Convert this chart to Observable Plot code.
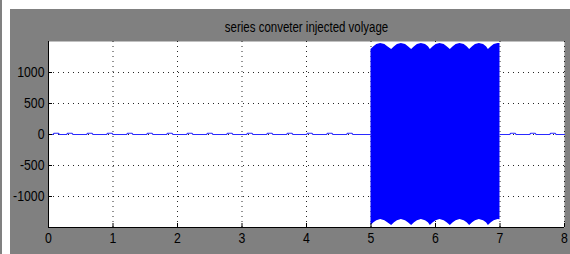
<!DOCTYPE html>
<html><head><meta charset="utf-8">
<script src="https://cdn.jsdelivr.net/npm/d3@7"></script>
<script src="https://cdn.jsdelivr.net/npm/@observablehq/plot@0.6"></script>
<style>
html,body{margin:0;padding:0;background:#fff;}
#wrap{position:relative;width:570px;height:254px;background:#fff;overflow:hidden;}
#panel{position:absolute;left:10px;top:9px;width:560px;height:245px;background:#808080;}
#strip{position:absolute;left:0;top:0;width:2px;height:254px;background:#808080;}
#chart{position:absolute;left:0;top:0;}
</style></head>
<body><div id="wrap"><div id="strip"></div><div id="panel"></div><div id="chart"></div></div>
<script>
const titleText = "series conveter injected volyage";
const xTicks = [0, 1, 2, 3, 4, 5, 6, 7, 8];
const yTicks = [-1000, -500, 0, 500, 1000];

// envelope of the injected voltage between t = 5 and t = 7
const envT = [
  5.000, 5.045, 5.090, 5.150, 5.215, 5.260,
  5.320, 5.365, 5.410, 5.470, 5.535, 5.580,
  5.630, 5.675, 5.720, 5.780, 5.845, 5.890,
  5.920, 5.965, 6.010, 6.070, 6.135, 6.180,
  6.230, 6.275, 6.320, 6.380, 6.445, 6.490,
  6.530, 6.575, 6.620, 6.680, 6.745, 6.790,
  6.820, 6.865, 6.910, 6.970, 7.000
];
const envUpper = [
  1372, 1416, 1450, 1469, 1450, 1416,
  1372, 1416, 1450, 1469, 1450, 1416,
  1372, 1416, 1450, 1469, 1450, 1416,
  1372, 1416, 1450, 1469, 1450, 1416,
  1372, 1416, 1450, 1469, 1450, 1416,
  1372, 1416, 1450, 1469, 1450, 1416,
  1372, 1416, 1450, 1469, 1466
];
const envLower = [
  -1468, -1424, -1390, -1371, -1390, -1424,
  -1468, -1424, -1390, -1371, -1390, -1424,
  -1468, -1424, -1390, -1371, -1390, -1424,
  -1468, -1424, -1390, -1371, -1390, -1424,
  -1468, -1424, -1390, -1371, -1390, -1424,
  -1468, -1424, -1390, -1371, -1390, -1424,
  -1468, -1424, -1390, -1371, -1374
];

// small ripple outside the injection interval
const rippleSegments = [[0, 5], [7, 8]];
const rippleBumps = [0.12, 0.33, 0.64, 0.95, 1.26, 1.57, 1.88, 2.19, 2.50, 2.81, 3.12, 3.43, 3.74, 4.05, 4.36, 4.67, 7.20, 7.51, 7.82];
const rippleHeight = 20;

const envData = envT.map((t, i) => ({t, lo: envLower[i], hi: envUpper[i]}));
const ripplePts = [];
rippleSegments.forEach(([a, b], s) => {
  ripplePts.push({t: a, v: 0, s});
  rippleBumps.filter(c => c > a && c < b).forEach(c => {
    ripplePts.push({t: c - 0.05, v: 0, s}, {t: c - 0.035, v: rippleHeight, s},
                   {t: c + 0.035, v: rippleHeight, s}, {t: c + 0.05, v: 0, s});
  });
  ripplePts.push({t: b, v: 0, s});
});

const font = "'Liberation Sans',Arial,Helvetica,sans-serif";
const fmt = d => String(d);
const chart = Plot.plot({
  width: 570, height: 254,
  marginLeft: 48, marginRight: 6, marginTop: 41, marginBottom: 27,
  style: {background: "transparent", fontFamily: font, fontSize: "15px", color: "black", overflow: "visible"},
  x: {domain: [0, 8], ticks: xTicks, label: null},
  y: {domain: [-1500, 1500], ticks: yTicks, label: null},
  marks: [
    Plot.frame({fill: "white", stroke: "none"}),
    Plot.gridX(xTicks, {stroke: "black", strokeOpacity: 0.85, strokeDasharray: "1 4"}),
    Plot.gridY(yTicks, {stroke: "black", strokeOpacity: 0.85, strokeDasharray: "1 4"}),
    Plot.areaY(envData, {x: "t", y1: "lo", y2: "hi", fill: "#0000ff", curve: "linear"}),
    Plot.line(ripplePts, {x: "t", y: "v", z: "s", stroke: "#2a2aff", strokeWidth: 1.2}),
    Plot.axisX(xTicks, {anchor: "bottom", tickSize: 4, dy: -4, tickFormat: () => "", label: null, stroke: "black"}),
    Plot.axisY(yTicks, {anchor: "left", tickSize: 4, dx: 4, tickFormat: () => "", label: null, stroke: "black"}),
    Plot.ruleX([0], {stroke: "black"}),
    Plot.ruleY([-1500], {stroke: "black"}),
    Plot.axisX(xTicks, {anchor: "bottom", tickSize: 0, tickPadding: 5, tickFormat: fmt, label: null, fontSize: 15}),
    Plot.axisY(yTicks, {anchor: "left", tickSize: 0, tickPadding: 4, tickFormat: fmt, label: null, fontSize: 15}),
    Plot.text([titleText], {frameAnchor: "top", lineAnchor: "middle", dy: -14, fontSize: 14, fill: "black"})
  ]
});
// condense all text horizontally around each text's own anchor (narrow scope font)
chart.querySelectorAll("text").forEach(t => {
  const x = parseFloat(t.getAttribute("x")) || 0;
  const tr = t.getAttribute("transform") || "";
  t.setAttribute("transform", `${tr} translate(${x},0) scale(0.82,1) translate(${-x},0)`);
});
document.getElementById("chart").appendChild(chart);
</script></body></html>
